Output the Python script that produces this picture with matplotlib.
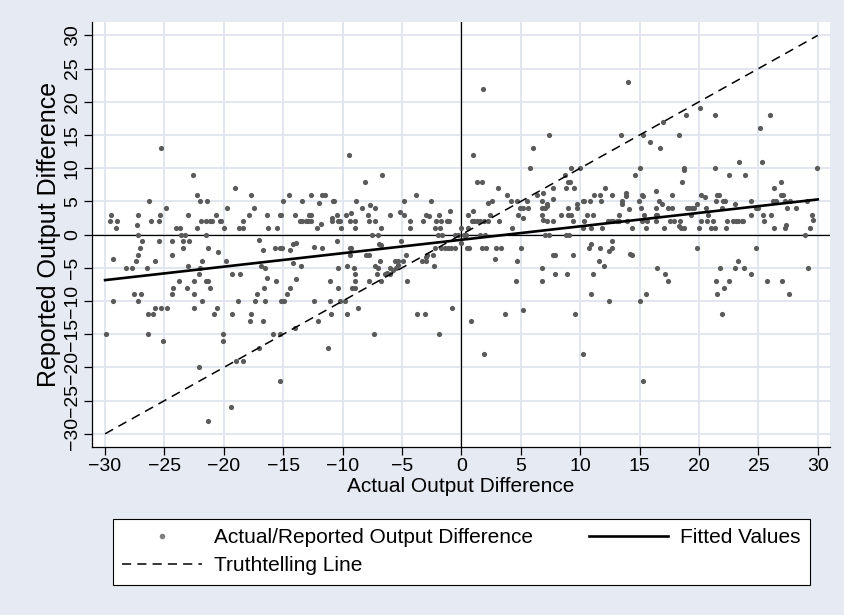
import numpy as np
import matplotlib
matplotlib.use("Agg")
import matplotlib.pyplot as plt
from matplotlib.lines import Line2D

# (actual, reported) pairs, grouped by region
upper_left = [
    (-29.5, 3), (-29.6, 2), (-29.0, 2), (-29.1, 1), (-27.2, 3), (-27.3, 1.5), (-27.2, 0),
    (-26.3, 5), (-26.1, 2), (-25.5, 2), (-25.4, 3), (-25.3, 13), (-24.9, 4), (-24.0, 1),
    (-23.7, 1), (-23.6, 0), (-23.3, 0), (-23.0, 3), (-22.6, 9), (-22.3, 6), (-22.0, 5),
    (-21.4, 5), (-22.3, 1), (-21.9, 2), (-21.5, 2), (-21.2, 2), (-21.0, 2), (-21.5, 0),
    (-20.7, 3), (-20.3, 2), (-20.2, 2), (-20.0, 1), (-19.7, 4), (-19.1, 7), (-18.7, 1),
]
upper_midleft = [
    (-18.4, 2), (-18.4, 1), (-17.9, 3), (-17.7, 6), (-17.5, 4), (-16.35, 3), (-16.3, 1),
    (-15.5, 1), (-15.3, 3), (-15.2, 3), (-15.0, 5), (-14.5, 6), (-14.0, 3), (-13.6, 2),
    (-13.4, 2), (-13.1, 2), (-12.9, 2), (-12.7, 2), (-13.4, 5), (-12.8, 3), (-12.7, 3),
    (-12.7, 6), (-12.2, 1), (-12.0, 4.7), (-11.8, 1.6), (-11.7, 6), (-11.5, 6), (-10.8, 5),
    (-10.7, 5), (-10.9, 2.5), (-10.9, 2), (-10.5, 3), (-10.4, 2), (-10.3, 2), (-10.2, 2),
    (-10.1, 1), (-9.7, 3), (-9.5, 12), (-9.3, 3.2), (-9.4, 2), (-9.0, 2), (-9.0, 1),
    (-8.9, 5), (-8.4, 4), (-8.1, 8), (-7.9, 3), (-7.75, 2), (-7.7, 4.5), (-7.3, 4),
    (-7.3, 2), (-6.8, 1), (-7.5, 0), (-7.0, 0), (-6.7, 9),
]
upper_center = [
    (-6.0, 3), (-5.2, 3.4), (-4.8, 3), (-4.8, 5), (-4.3, 2), (-4.3, 1), (-3.85, 6),
    (-3.2, 2), (-2.95, 3), (-2.75, 2.75), (-2.6, 5), (-2.25, 1), (-2.1, 2), (-1.75, 2),
    (-1.25, 2), (-1.05, 2), (-1.9, 3), (-1.8, 1), (-2.0, 0), (-1.6, 0), (-1.0, 3.5),
    (-0.55, 0), (-0.3, 0), (0.0, 1), (0.55, 1), (0.4, 0), (0.2, 0), (0.55, 3), (0.95, 12),
    (1.0, 3.5), (0.85, 2), (1.05, 2), (1.35, 2), (1.6, 2), (1.9, 2), (1.3, 8), (1.7, 8),
    (1.85, 22), (1.6, 0), (2.0, 0), (2.25, 2), (2.25, 4.7), (2.4, 3), (2.6, 5), (3.1, 7),
    (3.15, 2), (3.85, 6), (4.2, 5), (4.3, 1), (4.7, 5), (4.8, 3), (4.9, 4), (5.2, 4),
    (5.15, 2.5), (5.5, 5), (5.6, 4), (5.8, 10),
]
upper_midright = [
    (6.0, 13), (6.4, 6), (6.85, 6.25), (6.8, 5), (7.4, 15), (6.8, 4), (7.0, 4), (7.2, 4.25),
    (7.2, 4.65), (6.8, 3), (6.85, 2.15), (7.2, 2), (7.75, 2), (7.7, 5.35), (7.75, 7),
    (7.0, 0), (7.4, 0), (8.4, 3), (8.8, 7), (8.7, 9), (8.95, 8), (9.15, 8), (8.95, 4),
    (9.0, 3), (9.25, 3), (8.8, 0), (9.05, 0), (9.5, 7), (9.7, 4.65), (9.7, 4), (9.4, 2),
    (9.25, 10), (9.95, 10), (10.2, 5), (10.35, 5), (10.3, 2), (10.2, 1), (10.55, 3),
    (10.8, 5), (10.95, 1), (11.05, 3), (11.15, 6), (11.7, 6), (11.75, 5), (11.8, 1),
    (12.1, 7), (12.3, 2), (12.6, 2), (12.75, 2), (13.1, 2), (13.3, 2), (13.9, 2),
    (12.65, 6), (13.4, 15), (13.5, 4.65), (13.5, 5), (13.85, 5.75), (13.85, 6.25),
    (14.0, 23), (14.15, 3.85), (13.3, 3), (14.4, 1), (14.65, 9), (15.05, 10), (14.95, 5),
    (15.2, 6), (15.3, 5.75), (15.3, 15), (15.1, 4), (15.4, 3), (15.2, 2), (15.6, 2),
    (15.5, 1), (15.9, 14), (16.35, 6.5), (16.4, 3), (16.5, 3), (16.35, 4), (16.6, 5),
    (16.75, 13), (17.0, 17), (16.9, 4.65), (17.05, 1), (16.4, 2), (17.4, 4), (17.75, 4),
    (17.7, 6), (17.6, 2), (17.9, 2),
]
upper_right = [
    (18.35, 15), (18.9, 18), (18.7, 9.7), (18.75, 10), (18.6, 8), (18.4, 2), (18.35, 1.25),
    (18.5, 1), (18.7, 1), (18.95, 4), (19.2, 4), (19.4, 4), (19.55, 4), (19.3, 2.9),
    (19.8, 4.65), (20.0, 1), (20.1, 19), (20.15, 6), (20.5, 5.6), (20.6, 4), (20.2, 2),
    (20.65, 2), (20.8, 3), (21.0, 1), (21.35, 1), (21.2, 2), (21.35, 18), (21.35, 10),
    (21.4, 5), (21.7, 6), (21.5, 6), (22.0, 5), (22.2, 5), (21.9, 4), (22.25, 1), (22.4, 2),
    (22.5, 9), (22.9, 2), (23.1, 2), (23.3, 2), (23.6, 2), (23.7, 2), (23.0, 4.65),
    (23.4, 11), (23.9, 9), (24.4, 5), (24.4, 3), (24.8, 4), (25.0, 4), (25.1, 16),
    (25.3, 11), (25.4, 3), (25.5, 2), (26.0, 18), (26.1, 3), (26.3, 7), (26.3, 1),
    (26.25, 5), (26.5, 5), (26.9, 8), (26.9, 6), (27.1, 6), (27.2, 5), (27.4, 4), (27.2, 1),
    (27.3, 1.5), (27.7, 5), (28.2, 4), (29.1, 5), (29.5, 3), (29.6, 2.15), (29.35, 1),
    (28.9, 0), (29.95, 10),
]
lower_left = [
    (-26.9, -1), (-27.05, -2), (-27.2, -3), (-27.4, -4), (-29.35, -3.6), (-28.2, -5),
    (-27.7, -5), (-26.5, -5), (-25.8, -4), (-25.45, -1), (-24.4, -1), (-24.4, -3),
    (-23.4, -1), (-22.9, -1), (-23.4, -2), (-23.0, -4.7), (-22.1, -6), (-21.3, -2),
    (-20.5, -2.6), (-21.8, -4), (-22.0, -5), (-22.5, -7), (-21.5, -7), (-21.35, -7),
    (-23.8, -7), (-21.2, -8), (-23.1, -8), (-24.3, -8), (-24.35, -9), (-22.5, -9),
    (-21.85, -10), (-22.5, -11), (-20.6, -11), (-20.85, -12), (-27.6, -9), (-27.0, -9),
    (-27.2, -10), (-29.3, -10), (-25.8, -11), (-25.3, -11), (-24.8, -11), (-26.4, -12),
    (-26.0, -12), (-29.95, -15), (-26.35, -15), (-25.1, -16), (-20.1, -15), (-20.1, -16),
    (-19.8, -4), (-19.3, -6), (-18.6, -6), (-19.3, -12), (-18.8, -10), (-22.1, -20),
    (-19.4, -26), (-21.3, -28), (-18.95, -19),
]
lower_midleft = [
    (-18.4, -19), (-17.05, -0.75), (-16.7, -2.35), (-16.9, -4.7), (-16.5, -5), (-16.4, -6.6),
    (-16.6, -8), (-17.2, -9), (-17.4, -10), (-16.5, -10), (-17.7, -12), (-17.8, -13),
    (-16.7, -13), (-15.9, -15), (-15.3, -15), (-17.0, -17), (-15.3, -22), (-15.7, -2),
    (-15.3, -2), (-15.1, -2), (-15.6, -7), (-15.15, -10), (-14.95, -10), (-14.7, -9),
    (-14.4, -8), (-13.9, -6.75), (-14.2, -4.2), (-14.4, -2.35), (-14.2, -1.45), (-13.9, -1.2),
    (-13.5, -4.7), (-14.0, -14), (-12.45, -10), (-12.4, -1.85), (-11.7, -2), (-12.1, -13),
    (-11.1, -7), (-11.1, -10), (-10.95, -12), (-11.2, -17), (-10.5, -1), (-10.4, -5),
    (-10.4, -8), (-10.2, -10), (-9.8, -10), (-9.6, -12), (-9.4, -2), (-9.3, -2), (-9.4, -3),
    (-9.6, -4.7), (-9.05, -5), (-9.0, -6), (-8.95, -7), (-9.2, -8), (-8.95, -8), (-8.7, -11),
    (-8.0, -3), (-7.8, -3), (-7.75, -7), (-7.4, -15), (-7.3, -4.7), (-7.05, -5), (-7.1, -6),
    (-6.85, -4), (-6.9, -1.35), (-6.8, -1.6), (-6.8, -7), (-6.4, -6),
]
lower_center = [
    (-5.1, -1), (-4.7, -3), (-4.6, -7), (-6.0, -5), (-5.6, -4), (-5.3, -4), (-4.9, -4),
    (-5.3, -4.6), (-5.5, -5), (-5.75, -5.35), (-6.0, -6), (-6.3, -5.85), (-3.7, -12),
    (-3.1, -12), (-1.9, -15), (-0.8, -11), (-3.3, -4), (-2.95, -4), (-2.95, -3.4), (-2.9, -3),
    (-2.4, -3), (-2.3, -4.7), (-2.2, -2), (-1.7, -2), (-1.4, -2), (-1.1, -2), (-0.85, -2),
    (-0.55, -2), (0.0, -1.2), (0.45, -2), (0.6, -2), (1.7, -2), (2.1, -2), (2.9, -2),
    (3.3, -2), (2.8, -3.6), (5.05, -2), (4.7, -4), (4.6, -7), (0.8, -13), (1.9, -18),
    (3.7, -12), (5.2, -11.4),
]
lower_midright = [
    (7.75, -3), (7.9, -3), (6.75, -5), (6.75, -7), (7.9, -6), (8.9, -6), (9.4, -3),
    (9.6, -12), (10.2, -18), (10.9, -1.35), (10.7, -2), (11.7, -2), (12.4, -2.45), (12.7, -1),
    (12.7, -2), (11.6, -4), (12.0, -4.7), (11.05, -6), (10.9, -9), (12.4, -10), (14.2, -2.85),
    (14.35, -3), (15.0, -10), (15.5, -9), (15.3, -22), (16.5, -5), (17.1, -6), (17.4, -7),
]
lower_right = [
    (19.8, -2), (21.8, -5), (21.4, -7), (21.5, -9), (22.1, -8), (22.5, -7), (23.0, -5),
    (23.3, -4), (23.8, -5), (24.35, -6), (24.8, -2), (21.9, -12), (25.75, -7), (27.0, -7),
    (27.55, -9), (29.2, -5),
]

# fitted regression line, end points
fit_x = [-30, 30]
fit_y = [-6.85, 5.3]
truth_x = [-30, 30]
ticks = list(range(-30, 31, 5))

pts = np.array(upper_left + upper_midleft + upper_center + upper_midright + upper_right
               + lower_left + lower_midleft + lower_center + lower_midright + lower_right)
x, y = pts[:, 0], pts[:, 1]

plt.rcParams['font.family'] = ['Liberation Sans', 'DejaVu Sans']
plt.rcParams['axes.unicode_minus'] = True

BG = '#E6EAF3'
GRID = '#E1E6EF'

fig = plt.figure(figsize=(8.44, 6.15), dpi=100, facecolor=BG)
ax = fig.add_axes([0.109, 0.273, 0.874, 0.691])
ax.set_facecolor('white')
ax.set_xlim(-31.1, 31.0)
ax.set_ylim(-32, 32)
ax.set_xticks(ticks)
ax.set_yticks(ticks)
ax.grid(True, color=GRID, lw=1.4)
ax.set_axisbelow(True)

ax.axhline(0, color='black', lw=0.9, zorder=1.5)
ax.axvline(0, color='black', lw=0.9, zorder=1.5)
ax.scatter(x, y, s=14, color='#5A5A5A', linewidths=0, zorder=3)
ax.plot(fit_x, fit_y, color='black', lw=1.9, zorder=4)
ax.plot(truth_x, truth_x, color='black', lw=1.1, dashes=(6, 4), zorder=4)

for s in ['top', 'right']:
    ax.spines[s].set_visible(False)
for s in ['left', 'bottom']:
    ax.spines[s].set_linewidth(0.9)
ax.tick_params(direction='out', length=6, width=0.9, labelsize=14, pad=2)
plt.setp(ax.get_yticklabels(), rotation=90, va='center')
ax.set_xlabel('Actual Output Difference', fontsize=15, labelpad=1)
ax.set_ylabel('Reported Output Difference', fontsize=18, labelpad=2)

handles = [
    Line2D([], [], ls='none', marker='o', ms=4, color='#7F7F7F', mec='none'),
    Line2D([], [], color='black', lw=1.1, dashes=(6, 4)),
    Line2D([], [], color='black', lw=1.9),
]
labels = ['Actual/Reported Output Difference', 'Truthtelling Line', 'Fitted Values']
leg = fig.legend(handles, labels, ncol=2, loc='center',
                 bbox_to_anchor=(0.134, 0.047, 0.826, 0.112), bbox_transform=fig.transFigure,
                 mode='expand', borderaxespad=0, frameon=True, fancybox=False,
                 edgecolor='black', framealpha=1, fontsize=15, handlelength=3.8,
                 handletextpad=0.6, borderpad=0.45, labelspacing=0.45, numpoints=1)
leg.get_frame().set_linewidth(0.8)

fig.savefig('out.png', dpi=100, facecolor=BG)
